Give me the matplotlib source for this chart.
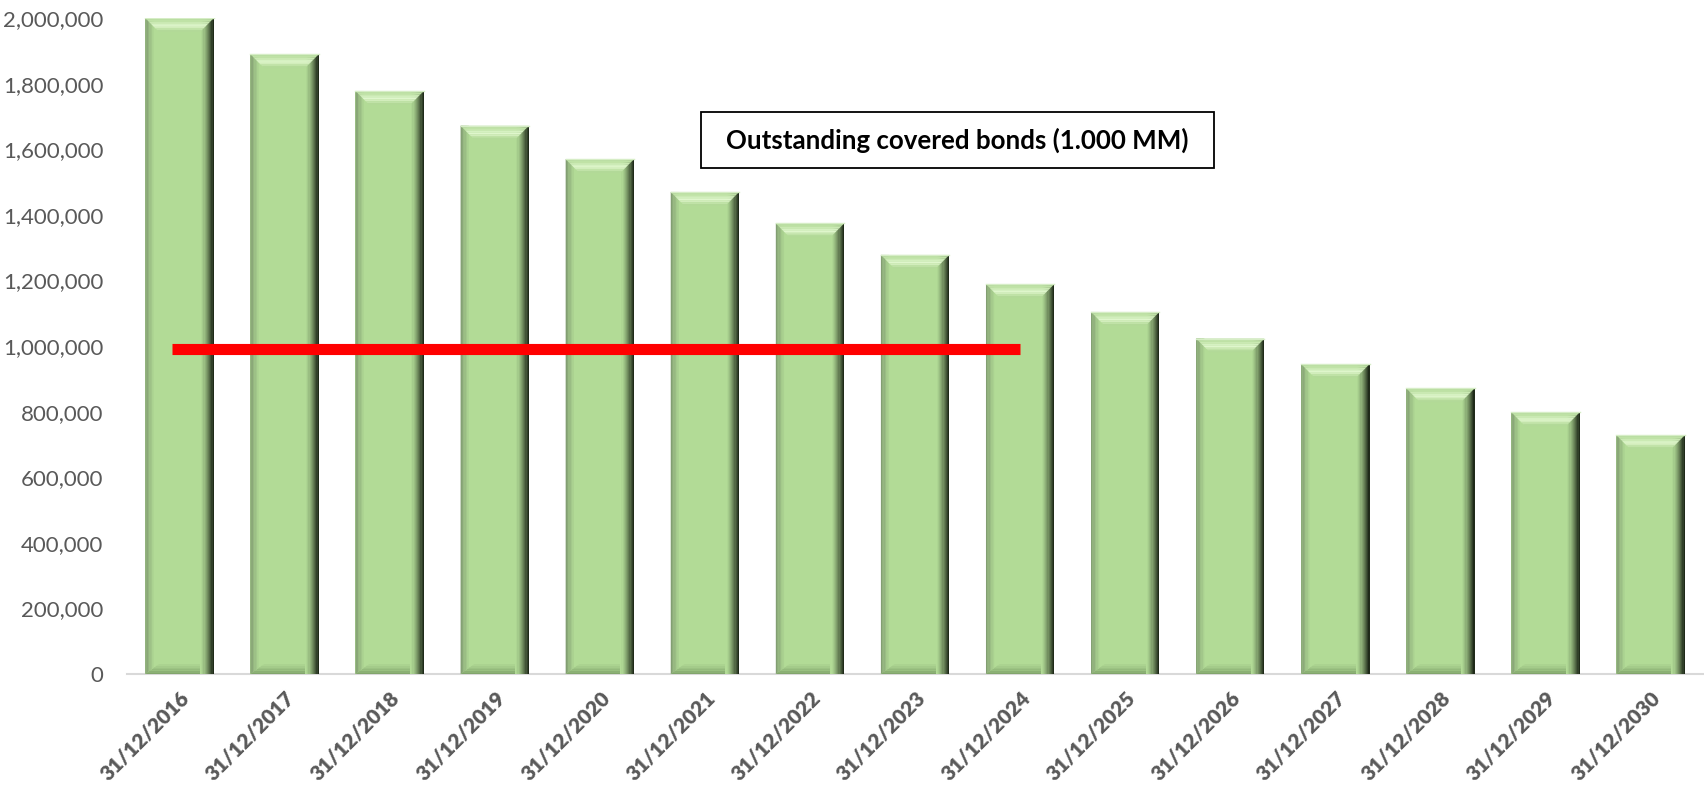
# Outstanding covered bonds - bar chart with bevelled bars
import matplotlib.pyplot as plt
import matplotlib.patches as patches
import numpy as np
from matplotlib.ticker import FuncFormatter
from matplotlib.colors import to_rgb

plt.rcParams['font.family'] = ['Lato', 'DejaVu Sans']

# data
Datas = ['31/12/2016', '31/12/2017', '31/12/2018', '31/12/2019', '31/12/2020',
         '31/12/2021', '31/12/2022', '31/12/2023', '31/12/2024', '31/12/2025',
         '31/12/2026', '31/12/2027', '31/12/2028', '31/12/2029', '31/12/2030']
Saldo = [2000000, 1890000, 1778000, 1672000, 1570000, 1470000, 1374000, 1278000,
         1189000, 1104000, 1023000, 945000, 871000, 798000, 728000]
Linha_valor = 990000
Linha_inicio, Linha_fim = -0.07, 8.0
Titulo = 'Outstanding covered bonds (1.000 MM)'

fig = plt.figure(figsize=(17.04, 7.91), dpi=100)
ax = fig.add_axes([0.0745, 0.148, 0.925, 0.829])

x = np.arange(len(Datas))
largura = 0.65
base = '#B2DB96'
bars = ax.bar(x, Saldo, width=largura, color=base, zorder=2)

ax.set_xlim(-0.5, len(Datas) - 0.5)
ax.set_ylim(0, 2000000)

# bevel effect (Excel style)
bx = 0.13      # bevel width in x units
by = 42000     # top bevel height in y units
bb = 30000     # bottom bevel height

def mix(c1, c2, t):
    a, b = np.array(to_rgb(c1)), np.array(to_rgb(c2))
    return tuple(a + (b - a) * t)

for r in bars:
    x0 = r.get_x()
    x1 = x0 + r.get_width()
    h = r.get_height()
    # bottom bevel in slices
    n = 6
    for i in range(n):
        ta, tb = i / n, (i + 1) / n
        ya, yb = bb * ta, bb * tb
        ax.fill([x0 + bx * ta, x1 - bx * ta, x1 - bx * tb, x0 + bx * tb],
                [ya, ya, yb, yb], color=mix('#7FA26A', base, ta ** 0.8), lw=0, zorder=3)
    # left edge
    n = 6
    for i in range(n):
        xa = x0 + bx * 0.6 * i / n
        xb = x0 + bx * 0.6 * (i + 1) / n
        ax.fill([xa, xb, xb, xa], [bb * 0.6 * i / n, bb * 0.6 * (i + 1) / n, h, h],
                color=mix('#829E72', base, i / n), lw=0, zorder=4)
    # right edge gradient
    n = 12
    for i in range(n):
        xa = x1 - bx + bx * i / n
        xb = x1 - bx + bx * (i + 1) / n
        t = (i / (n - 1)) ** 1.4
        ax.fill([xa, xb, xb, xa], [0, 0, h, h], color=mix(base, '#1F2A19', t), lw=0, zorder=4)
    # top bevel in slices
    n = 8
    cores = ['#B5DB9C', '#BFE2A6', '#CAE9B3', '#D6F1C2', '#DFF6CC', '#D2EDBC', '#C0E2A7', '#B2D998']
    for i in range(n):
        ta, tb = i / n, (i + 1) / n
        ya, yb = h - by * ta, h - by * tb
        ax.fill([x0 + bx * ta, x1 - bx * ta, x1 - bx * tb, x0 + bx * tb],
                [ya, ya, yb, yb], color=cores[i], lw=0, zorder=5)
    # thin light outline on top
    ax.plot([x0, x1], [h, h], color='#D6EDC6', lw=1, zorder=6)

# red line
ax.plot([Linha_inicio, Linha_fim], [Linha_valor, Linha_valor], color='#FF0000', lw=8,
        solid_capstyle='butt', zorder=7)

# axes style
for s in ['top', 'right', 'left']:
    ax.spines[s].set_visible(False)
ax.spines['bottom'].set_color('#D9D9D9')
ax.spines['bottom'].set_linewidth(1.5)
ax.spines['bottom'].set_zorder(1)

ax.set_yticks(np.arange(0, 2000001, 200000))
ax.yaxis.set_major_formatter(FuncFormatter(lambda v, p: f'{int(v):,}'))
ax.tick_params(axis='y', length=0, pad=17, labelsize=16, labelcolor='#595959')
ax.set_xticks(x)
ax.set_xticklabels(Datas, rotation=45, ha='right', rotation_mode='anchor',
                   fontweight='heavy', fontsize=15, color='#595959')
ax.tick_params(axis='x', length=0, pad=10)

# title box
caixa = patches.Rectangle((701 / 1704, 1 - 168 / 791), 513 / 1704, 56 / 791,
                          transform=fig.transFigure, facecolor='white',
                          edgecolor='black', lw=1.3, zorder=8)
fig.patches.append(caixa)
fig.text(957 / 1704, 1 - 140 / 791, Titulo, ha='center', va='center', fontsize=18.6,
         fontweight='bold', color='black', zorder=9)

fig.savefig('out.png', dpi=100)
